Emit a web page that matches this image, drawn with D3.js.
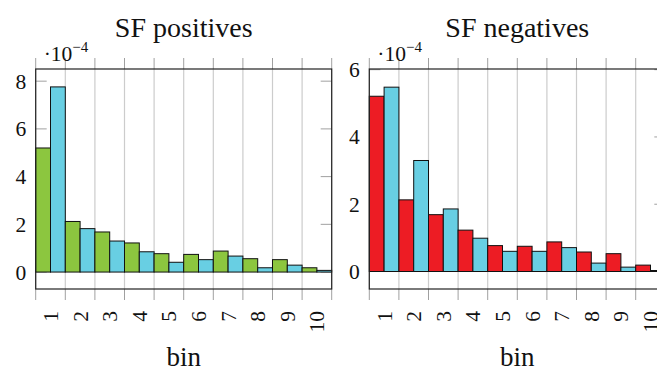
<!DOCTYPE html>
<html>
<head>
<meta charset="utf-8">
<script src="https://cdn.jsdelivr.net/npm/d3@7"></script>
<style>
  body { margin: 0; background: #fff; }
  svg { display: block; }
  text { font-family: "Liberation Serif", "DejaVu Serif", serif; fill: #111; }
</style>
</head>
<body>
<svg id="chart" width="657" height="370"></svg>
<script>
// ---- data (values in units of 10^-4) ----
const bins = ["1","2","3","4","5","6","7","8","9","10"];
const posPrimary   = [5.20, 2.12, 1.68, 1.22, 0.77, 0.74, 0.88, 0.56, 0.52, 0.18];
const posReference = [7.76, 1.82, 1.30, 0.85, 0.41, 0.52, 0.67, 0.18, 0.29, 0.07];
const negPrimary   = [5.21, 2.13, 1.69, 1.23, 0.77, 0.75, 0.88, 0.58, 0.53, 0.19];
const negReference = [5.48, 3.30, 1.86, 0.99, 0.60, 0.60, 0.71, 0.25, 0.13, 0.03];
const posTicks = [0, 2, 4, 6, 8];
const negTicks = [0, 2, 4, 6];
const titles = ["SF positives", "SF negatives"];
const xLabel = "bin";

const svg = d3.select("#chart");
const plotTop = 69, plotBottom = 289;
const binW = 29.6;

const panels = [
  { x0: 35.7, title: titles[0], a: posPrimary, b: posReference, colA: "#8cc63f", ticks: posTicks, dom: [-0.71, 8.51] },
  { x0: 369.3, title: titles[1], a: negPrimary, b: negReference, colA: "#ed1c24", ticks: negTicks, dom: [-0.52, 6.02] }
];
const colB = "#68cfe3";
const gridCol = "#cccccc", tickCol = "#a0a0a0";
const tickLen = 11;

panels.forEach(p => {
  const x1 = p.x0 + binW * bins.length;
  const x = d3.scaleBand().domain(bins).range([p.x0, x1]).paddingInner(0).paddingOuter(0);
  const sub = d3.scaleBand().domain(["a","b"]).range([0, x.bandwidth()]);
  const y = d3.scaleLinear().domain(p.dom).range([plotBottom, plotTop]);
  const g = svg.append("g");

  const edges = bins.map(b => x(b)).concat([x1]);
  edges.forEach(e => {
    g.append("line").attr("x1", e).attr("x2", e).attr("y1", plotTop).attr("y2", plotBottom)
      .attr("stroke", gridCol).attr("stroke-width", 1.2);
    g.append("line").attr("x1", e).attr("x2", e).attr("y1", plotTop - tickLen).attr("y2", plotTop)
      .attr("stroke", tickCol).attr("stroke-width", 1);
    g.append("line").attr("x1", e).attr("x2", e).attr("y1", plotBottom).attr("y2", plotBottom + tickLen)
      .attr("stroke", tickCol).attr("stroke-width", 1);
  });

  p.ticks.forEach(t => {
    g.append("line").attr("x1", p.x0).attr("x2", p.x0 + tickLen).attr("y1", y(t)).attr("y2", y(t))
      .attr("stroke", tickCol).attr("stroke-width", 1);
    g.append("line").attr("x1", x1 - tickLen).attr("x2", x1).attr("y1", y(t)).attr("y2", y(t))
      .attr("stroke", tickCol).attr("stroke-width", 1);
    g.append("text").attr("x", p.x0 - 9.5).attr("y", y(t)).attr("dy", "0.35em")
      .attr("text-anchor", "end").attr("font-size", 21.5).text(t);
  });

  const rows = bins.map((b, i) => ({ bin: b, a: p.a[i], b: p.b[i] }));
  const bg = g.append("g");
  rows.forEach(r => {
    [["a", r.a, p.colA], ["b", r.b, colB]].forEach(([k, v, c]) => {
      bg.append("rect")
        .attr("x", x(r.bin) + sub(k)).attr("width", sub.bandwidth())
        .attr("y", y(v)).attr("height", y(0) - y(v))
        .attr("fill", c).attr("stroke", "#111").attr("stroke-width", 1);
    });
  });

  g.append("rect").attr("x", p.x0).attr("y", plotTop).attr("width", x1 - p.x0).attr("height", plotBottom - plotTop)
    .attr("fill", "none").attr("stroke", "#222").attr("stroke-width", 1.2);

  bins.forEach(b => {
    const cx = x(b) + x.bandwidth() / 2;
    g.append("text").attr("transform", `translate(${cx},311) rotate(-90)`)
      .attr("dy", "0.35em").attr("text-anchor", "end").attr("font-size", 21.5).text(b);
  });

  const sl = g.append("text").attr("x", p.x0 + 8).attr("y", 60.5).attr("font-size", 21.5);
  sl.append("tspan").text("\u00B710");
  sl.append("tspan").attr("dy", -9).attr("font-size", 15).text("\u22124");

  const cx = (p.x0 + x1) / 2;
  g.append("text").attr("x", cx).attr("y", 36.7).attr("text-anchor", "middle").attr("font-size", 28).text(p.title);
  g.append("text").attr("x", cx).attr("y", 365.5).attr("text-anchor", "middle").attr("font-size", 27).text(xLabel);
});
</script>
</body>
</html>
